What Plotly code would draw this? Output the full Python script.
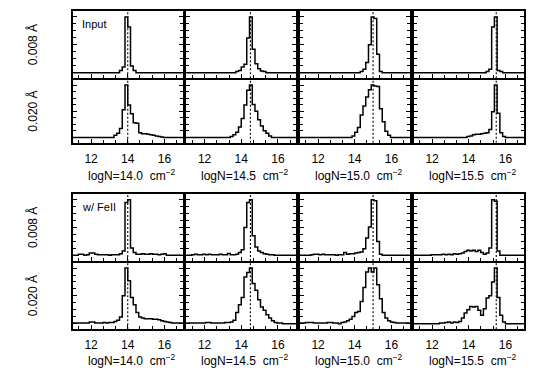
import plotly.graph_objects as go

# page body has an 8 px default margin; figure is drawn inside it
OFF = 8
W, H = 541 - OFF, 383 - OFF

# ---------------- data ----------------
bin_width = 0.15
bin_start = [11.0, 11.0, 11.0, 11.05]          # left edge of first bin, per column
logN_true = [14.0, 14.5, 15.0, 15.5]
column_titles = ["logN=14.0&nbsp;&nbsp;cm<sup>−2</sup>", "logN=14.5&nbsp;&nbsp;cm<sup>−2</sup>",
                 "logN=15.0&nbsp;&nbsp;cm<sup>−2</sup>", "logN=15.5&nbsp;&nbsp;cm<sup>−2</sup>"]
row_titles = ["0.008 Å", "0.020 Å"]
block_titles = ["Input", "w/ FeII"]
x_tick_vals = [12, 14, 16]
x_tick_text = ["12", "14", "16"]

# normalised histogram heights (40 bins of 0.15 dex)
input_008_140 = [0, 0, 0, 0, 0, 0, 0, 0, 0, 0,
                 0, 0, 0, 0, 0, 0, 0, 0.04, 0.10, 1.00,
                 0.82, 0.12, 0.04, 0, 0, 0, 0, 0, 0, 0,
                 0, 0, 0, 0, 0, 0, 0, 0, 0, 0]
input_008_145 = [0, 0, 0, 0, 0, 0, 0, 0, 0, 0,
                 0, 0, 0, 0, 0, 0, 0, 0, 0.02, 0.04,
                 0.10, 0.15, 0.62, 1.00, 0.42, 0.16, 0.07, 0.03, 0.02, 0,
                 0, 0, 0, 0, 0, 0, 0, 0, 0, 0]
input_008_150 = [0, 0, 0, 0, 0, 0, 0, 0, 0, 0,
                 0, 0, 0, 0, 0, 0, 0, 0, 0, 0,
                 0, 0, 0.02, 0.06, 0.18, 0.50, 1.00, 0.97, 0.33, 0.02,
                 0, 0, 0, 0, 0, 0, 0, 0, 0, 0]
input_008_155 = [0, 0, 0, 0, 0, 0, 0, 0, 0, 0,
                 0, 0, 0, 0, 0, 0, 0, 0, 0, 0,
                 0, 0, 0, 0, 0, 0, 0.02, 0.06, 0.82, 1.00,
                 0.04, 0.02, 0, 0, 0, 0, 0, 0, 0, 0]
input_020_140 = [0, 0, 0, 0, 0, 0, 0, 0, 0, 0,
                 0, 0, 0, 0, 0, 0.04, 0.08, 0.17, 0.53, 1.00,
                 0.62, 0.45, 0.28, 0.27, 0.09, 0.07, 0.07, 0.06, 0.05, 0.04,
                 0.03, 0.02, 0.01, 0, 0, 0, 0, 0, 0, 0]
input_020_145 = [0, 0, 0, 0, 0, 0, 0, 0, 0, 0,
                 0, 0, 0, 0, 0, 0, 0.02, 0.05, 0.10, 0.20,
                 0.36, 0.62, 0.90, 1.00, 0.63, 0.50, 0.34, 0.22, 0.13, 0.08,
                 0.03, 0, 0, 0, 0, 0, 0, 0, 0, 0]
input_020_150 = [0, 0, 0, 0, 0, 0, 0, 0, 0, 0,
                 0, 0, 0, 0, 0, 0, 0, 0, 0, 0.03,
                 0.10, 0.19, 0.43, 0.60, 0.77, 0.91, 1.00, 0.98, 0.97, 0.55,
                 0.30, 0.12, 0.04, 0, 0, 0, 0, 0, 0, 0]
input_020_155 = [0, 0, 0, 0, 0, 0, 0, 0, 0, 0,
                 0, 0, 0, 0, 0, 0, 0, 0, 0, 0.02,
                 0.03, 0.05, 0.06, 0.06, 0.07, 0.08, 0.09, 0.15, 0.49, 1.00,
                 0.46, 0.09, 0.02, 0, 0, 0, 0, 0, 0, 0]

feii_008_140 = [0, 0, 0.02, 0.02, 0, 0.01, 0.04, 0.04, 0.02, 0.01,
                0.01, 0.01, 0.01, 0, 0.01, 0.01, 0.01, 0.03, 0.08, 0.95,
                1.00, 0.13, 0.05, 0.02, 0.02, 0.03, 0.02, 0.02, 0.03, 0.02,
                0.02, 0.01, 0.02, 0.03, 0, 0, 0, 0, 0, 0]
feii_008_145 = [0, 0, 0.01, 0.02, 0.01, 0.01, 0.02, 0.01, 0.02, 0.01,
                0.01, 0.01, 0.02, 0.01, 0.01, 0.035, 0.01, 0.01, 0.02, 0.05,
                0.10, 0.50, 0.95, 1.00, 0.35, 0.15, 0.08, 0.05, 0.03, 0.02,
                0.01, 0.01, 0, 0, 0, 0, 0, 0, 0, 0]
feii_008_150 = [0, 0, 0, 0, 0.01, 0.02, 0.02, 0.01, 0.02, 0.01,
                0.01, 0.01, 0.01, 0, 0.01, 0.01, 0.05, 0.02, 0.03, 0.03,
                0.04, 0.05, 0.06, 0.12, 0.31, 0.51, 1.00, 0.98, 0.25, 0.02,
                0, 0, 0, 0, 0, 0, 0, 0, 0, 0]
feii_008_155 = [0, 0, 0, 0, 0, 0, 0.01, 0.01, 0.01, 0.01,
                0.02, 0.01, 0.02, 0.01, 0.03, 0.02, 0.03, 0.04, 0.07, 0.09,
                0.08, 0.09, 0.07, 0.09, 0.05, 0.02, 0.04, 0.13, 1.00, 0.97,
                0.08, 0, 0, 0, 0, 0, 0, 0, 0, 0]
feii_020_140 = [0.01, 0.01, 0.01, 0.01, 0.01, 0.01, 0.03, 0.03, 0.01, 0.01,
                0.01, 0.02, 0.01, 0.02, 0.02, 0.04, 0.06, 0.12, 0.50, 1.00,
                0.77, 0.47, 0.34, 0.20, 0.12, 0.10, 0.09, 0.09, 0.09, 0.08,
                0.08, 0.07, 0.05, 0.04, 0.03, 0.02, 0.01, 0.01, 0.01, 0.01]
feii_020_145 = [0.01, 0.01, 0.01, 0.01, 0.01, 0.01, 0.01, 0.02, 0.02, 0.01,
                0.01, 0.01, 0.01, 0.01, 0.02, 0.02, 0.03, 0.06, 0.20, 0.34,
                0.47, 0.84, 0.92, 1.00, 0.72, 0.60, 0.43, 0.30, 0.24, 0.16,
                0.10, 0.05, 0.02, 0.01, 0.01, 0, 0, 0, 0, 0]
feii_020_150 = [0.01, 0.01, 0.02, 0.02, 0.02, 0.01, 0.01, 0.01, 0.01, 0.01,
                0.02, 0.02, 0.01, 0.01, 0, 0.02, 0.03, 0.05, 0.08, 0.13,
                0.20, 0.22, 0.40, 0.65, 0.93, 1.00, 0.93, 1.00, 0.70, 0.45,
                0.20, 0.10, 0.05, 0.03, 0.02, 0.01, 0.01, 0.01, 0.01, 0.01]
feii_020_155 = [0, 0, 0, 0, 0, 0, 0, 0, 0, 0.01,
                0.01, 0.02, 0.03, 0.01, 0.03, 0.02, 0.04, 0.10, 0.19, 0.25,
                0.31, 0.30, 0.31, 0.24, 0.15, 0.27, 0.46, 0.50, 0.75, 1.00,
                0.47, 0.15, 0.03, 0, 0, 0, 0, 0, 0, 0]

panels = [
    [[input_008_140, input_008_145, input_008_150, input_008_155],
     [input_020_140, input_020_145, input_020_150, input_020_155]],
    [[feii_008_140, feii_008_145, feii_008_150, feii_008_155],
     [feii_020_140, feii_020_145, feii_020_150, feii_020_155]],
]

# ---------------- layout geometry (window pixels, frame-line centres) ----------------
x_range = [11, 17]
y_range = [-0.1, 1.1]
LW = 1.6
col_left = [72.0, 185.5, 299.0, 413.0]
col_w = 111.5
row_edges = [[(10.5, 79.0), (79.0, 143.5)], [(193.3, 261.7), (261.7, 330.0)]]
title_y = [175.0, 360.0]
FONT = "Liberation Sans, Arial, sans-serif"


def px(xp):
    return (xp - OFF) / W


def py(yp):
    return 1 - (yp - OFF) / H


fig = go.Figure()
layout = dict(width=W, height=H, margin=dict(l=0, r=0, t=0, b=0),
              paper_bgcolor="white", plot_bgcolor="white", showlegend=False,
              font=dict(family=FONT, size=12, color="black"))
annotations = []

idx = 0
for b in range(2):
    for r in range(2):
        top, bot = row_edges[b][r]
        for c in range(4):
            idx += 1
            sfx = "" if idx == 1 else str(idx)
            heights = panels[b][r][c]
            start = bin_start[c]
            n = len(heights)
            xs = [x_range[0]] + [start + i * bin_width for i in range(n)] + [start + n * bin_width]
            ys = [0.0] + list(heights) + [0.0]
            if xs[-1] < x_range[1]:
                xs.append(x_range[1])
                ys.append(0.0)
            fig.add_trace(go.Scatter(x=xs, y=ys, mode="lines", line_shape="hv",
                                     line=dict(color="black", width=1.5),
                                     xaxis="x" + sfx, yaxis="y" + sfx, hoverinfo="skip"))
            fig.add_trace(go.Scatter(x=[logN_true[c], logN_true[c]], y=y_range, mode="lines",
                                     line=dict(color="black", width=1.1, dash="2px,2px"),
                                     xaxis="x" + sfx, yaxis="y" + sfx, hoverinfo="skip"))
            l = col_left[c]
            # plotly draws frame lines just outside the domain
            d_top = top + LW / 2 if r == 0 else top + LW / 2
            d_bot = bot - LW / 2
            layout["xaxis" + sfx] = dict(
                domain=[px(l + LW / 2), px(l + col_w - LW / 2)], range=x_range, anchor="y" + sfx,
                showline=True, linecolor="black", linewidth=LW, mirror=(r == 0),
                ticks="inside", ticklen=4, tickwidth=1, tickcolor="black",
                tickmode="array", tickvals=x_tick_vals, ticktext=x_tick_text,
                showticklabels=(r == 1), ticklabelstandoff=4,
                tickfont=dict(family=FONT, size=12, color="black"),
                minor=dict(tickmode="linear", tick0=12, dtick=2 / 3, ticks="inside",
                           ticklen=3, tickwidth=1, tickcolor="black"),
                showgrid=False, zeroline=False, fixedrange=True)
            layout["yaxis" + sfx] = dict(
                domain=[py(d_bot), py(d_top)], range=y_range, anchor="x" + sfx,
                showline=True, linecolor="black", linewidth=LW, mirror="ticks",
                ticks="inside", ticklen=4, tickwidth=1, tickcolor="black",
                tickmode="array", tickvals=[0, 0.5, 1.0], showticklabels=False,
                minor=dict(tickmode="linear", tick0=0, dtick=0.125, ticks="inside",
                           ticklen=3, tickwidth=1, tickcolor="black"),
                showgrid=False, zeroline=False, fixedrange=True)
            if r == 1:
                annotations.append(dict(
                    x=px(l + col_w / 2 + 4), y=py(title_y[b]), xref="paper", yref="paper",
                    text=column_titles[c], showarrow=False, xanchor="center", yanchor="middle",
                    font=dict(family=FONT, size=12, color="black")))
        annotations.append(dict(
            x=px(32.5), y=py((top + bot) / 2), xref="paper", yref="paper",
            text=row_titles[r], textangle=-90, showarrow=False,
            xanchor="center", yanchor="middle", font=dict(family=FONT, size=12, color="black")))
    annotations.append(dict(
        x=px(80), y=py(row_edges[b][0][0] + 13.5), xref="paper", yref="paper",
        text=block_titles[b], showarrow=False, xanchor="left", yanchor="middle",
        font=dict(family=FONT, size=11, color="black")))

layout["annotations"] = annotations
fig.update_layout(**layout)
fig.write_html("out.html")
